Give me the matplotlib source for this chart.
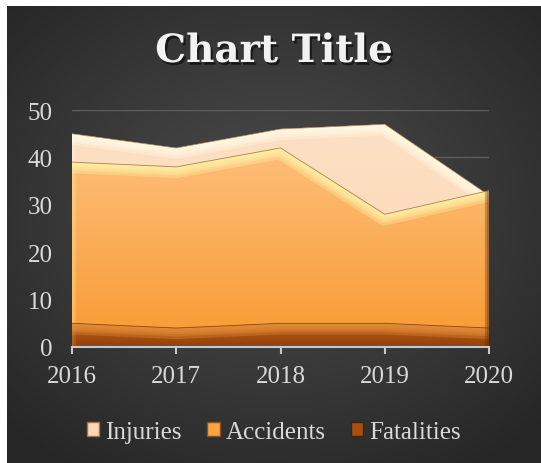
import matplotlib.pyplot as plt
import numpy as np
from matplotlib.patches import Polygon, Patch
from matplotlib.colors import LinearSegmentedColormap
import matplotlib.patheffects as pe

years = ["2016", "2017", "2018", "2019", "2020"]
injuries = [45, 42, 46, 47, 32]
accidents = [39, 38, 42, 28, 33]
fatalities = [5, 4, 5, 5, 4]


def shaded_area(ax, x, y, top_color, bottom_color, glow, z, edge="#8a5a30"):
    # area polygon filled with a vertical gradient, with a soft bevel glow on its top edge
    verts = [(x[0], 0)] + list(zip(x, y)) + [(x[-1], 0)]
    poly = Polygon(verts, closed=True, facecolor="none", edgecolor="none", zorder=z)
    ax.add_patch(poly)
    cmap = LinearSegmentedColormap.from_list("", [bottom_color, top_color])
    grad = np.linspace(0, 1, 256).reshape(-1, 1)
    im = ax.imshow(grad, cmap=cmap, extent=(x[0], x[-1], 0, max(y)),
                   origin="lower", aspect="auto", zorder=z)
    im.set_clip_path(poly)
    for lw in [16, 12, 9, 6, 3]:
        glow_line, = ax.plot(x, y, color=glow, lw=lw, alpha=0.34, zorder=z + 0.1,
                             solid_joinstyle="miter")
        glow_line.set_clip_path(poly)
    # darker right-hand side and lighter left-hand side of the bevel
    for lw in [6, 3]:
        side, = ax.plot([x[-1], x[-1]], [0, y[-1]], color="#5a2a08", lw=lw, alpha=0.3,
                        zorder=z + 0.1)
        side.set_clip_path(poly)
        left, = ax.plot([x[0], x[0]], [0, y[0]], color=glow, lw=lw, alpha=0.2,
                        zorder=z + 0.1)
        left.set_clip_path(poly)
    ax.plot(x, y, color=edge, lw=0.6, alpha=0.7, zorder=z + 0.2)


fig = plt.figure(figsize=(5.41, 4.64), dpi=100)
fig.patch.set_facecolor("white")

# dark radial backdrop
bg = fig.add_axes([7 / 541, 0, 534 / 541, 457 / 464])
bg.axis("off")
gy, gx = np.mgrid[-1:1:300j, -1:1:300j]
r = np.sqrt((gx * 0.95) ** 2 + (gy + 0.1) ** 2)
bg_cmap = LinearSegmentedColormap.from_list("bg", ["#4c4c4c", "#3a3a3a", "#262626"])
bg.imshow(r, cmap=bg_cmap, vmin=0, vmax=1.35, aspect="auto")

ax = fig.add_axes([72 / 541, 116 / 464, 417 / 541, 237 / 464])
ax.set_facecolor("none")
x = np.arange(len(years))

for v in [10, 20, 30, 40, 50]:
    ax.axhline(v, color="#5e5e5e", lw=1, zorder=0.5)

shaded_area(ax, x, injuries, "#fde0c4", "#fcd6b2", "#fffbe6", 1)
shaded_area(ax, x, accidents, "#fdbf7a", "#f89a32", "#fff3a8", 2)
shaded_area(ax, x, fatalities, "#c0621a", "#8e400a", "#e8903c", 3, edge="#6a300a")

ax.set_xlim(0, 4)
ax.set_ylim(0, 50)
ax.set_xticks(x)
ax.set_xticklabels(years)
ax.set_yticks([0, 10, 20, 30, 40, 50])
for s in ["top", "right", "left"]:
    ax.spines[s].set_visible(False)
ax.spines["bottom"].set_color("#c8c8c8")
ax.spines["bottom"].set_linewidth(1.5)
ax.spines["bottom"].set_zorder(5)
ax.tick_params(axis="x", colors="#c8c8c8", length=5, width=1.5, pad=8,
               labelsize=18, labelcolor="#d9d9d9")
ax.tick_params(axis="y", length=0, pad=14, labelsize=18, labelcolor="#d9d9d9")
for lab in ax.get_xticklabels() + ax.get_yticklabels():
    lab.set_fontfamily("Liberation Serif")

fig.text(274 / 541, 1 - 52 / 464, "Chart Title", ha="center", va="center",
         fontsize=28, fontweight="bold", family="DejaVu Serif", color="#f2f2f2",
         path_effects=[pe.withSimplePatchShadow(offset=(1.5, -2), shadow_rgbFace="black",
                                                alpha=0.55)])

handles = [Patch(facecolor="#fcd8b6", edgecolor="#a07050", label="Injuries"),
           Patch(facecolor="#f9a445", edgecolor="#8a5020", label="Accidents"),
           Patch(facecolor="#a8500f", edgecolor="#4a2005", label="Fatalities")]
leg = fig.legend(handles=handles, loc="center", bbox_to_anchor=(274 / 541, 1 - 433 / 464),
                 ncol=3, frameon=False, handlelength=0.5, handleheight=0.5,
                 handletextpad=0.25, columnspacing=1.0,
                 prop={"family": "Liberation Serif", "size": 18})
for t in leg.get_texts():
    t.set_color("#d9d9d9")

fig.savefig("out.png", dpi=100)
